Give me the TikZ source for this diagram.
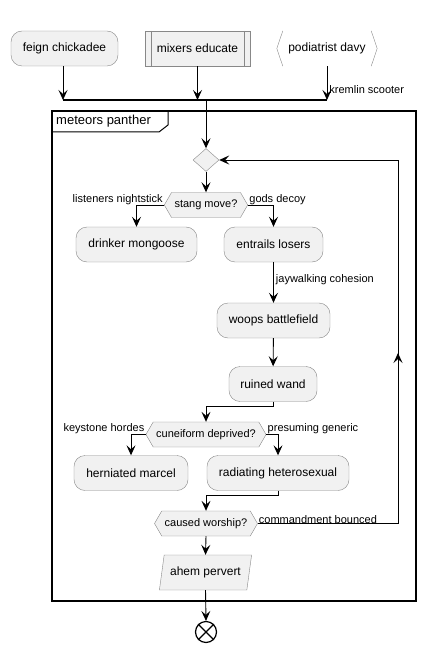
\documentclass[tikz,border=0pt]{standalone}
\usepackage{fontspec}
\setmainfont{Liberation Sans}
\usetikzlibrary{arrows.meta,shapes.geometric,shapes.symbols}
\definecolor{boxfill}{HTML}{F1F1F1}
\definecolor{boxline}{HTML}{888888}
\tikzset{
  act/.style={draw=boxline,fill=boxfill,rounded corners=11pt,minimum height=35pt,inner xsep=10pt,font=\fontsize{12}{14}\selectfont},
  hexa/.style={shape=signal,signal to=east and west,signal pointer angle=120,draw=boxline,fill=boxfill,minimum height=25pt,inner xsep=3pt,font=\fontsize{11}{13}\selectfont},
  lbl/.style={font=\fontsize{11}{13}\selectfont,inner sep=1pt},
  flow/.style={-{Stealth[length=10pt,width=9pt,inset=4pt]},line width=0.9pt}
}
\begin{document}
\begin{tikzpicture}[x=1pt,y=-1pt]
  \useasboundingbox (0,0) rectangle (425,652);

  % top row
  \node[act,minimum width=107pt] (feign) at (64.5,48.5) {feign chickadee};
  \node[draw=boxline,fill=boxfill,minimum width=105pt,minimum height=35pt,font=\fontsize{12}{14}\selectfont] (mixers) at (197.5,48.5) {mixers educate};
  \draw[boxline] ([xshift=6pt]mixers.north west) -- ([xshift=6pt]mixers.south west);
  \draw[boxline] ([xshift=-6pt]mixers.north east) -- ([xshift=-6pt]mixers.south east);
  \node[minimum width=100pt,minimum height=35pt,font=\fontsize{12}{14}\selectfont] (davy) at (327,48.5) {podiatrist davy};
  \draw[boxline] ([xshift=6pt]davy.north west) -- (davy.west) -- ([xshift=6pt]davy.south west);
  \draw[boxline] ([xshift=-6pt]davy.north east) -- (davy.east) -- ([xshift=-6pt]davy.south east);

  % fork bar
  \coordinate (barL) at (63,100);
  \coordinate (barR) at (327,100);
  \coordinate (barM) at (206,100);
  \draw[line width=2.5pt] (barL) -- (barR);
  \draw[flow] (feign.south -| barL) -- (barL);
  \draw[flow] (mixers.south) -- (mixers.south |- barL);
  \draw[flow] (davy.south) -- (barR) node[lbl,pos=0.68,right,xshift=1pt] {kremlin scooter};

  % frame
  \draw[line width=1.4pt] (52,111) rectangle (416,601);
  \draw[line width=1pt] (168,111) -- (168,125) -- (159,132) -- (52,132);
  \node[anchor=west,font=\fontsize{13}{15}\selectfont,inner sep=0pt] (panther) at (56,121.5) {meteors panther};

  % loop
  \node[diamond,draw=boxline,fill=boxfill,minimum width=26pt,minimum height=23pt,inner sep=0pt] (merge) at (206,160) {};
  \draw[flow] (barM) -- (merge.north);
  \node[hexa] (stang) at (206,205) {stang move?};
  \draw[flow] (merge.south) -- (stang.north);

  \node[act,minimum width=121pt] (drinker) at (136.5,244.5) {drinker mongoose};
  \node[act,minimum width=99pt] (entrails) at (273.5,244.5) {entrails losers};
  \draw[flow] (stang.west) -| (drinker.north) node[lbl,pos=0,anchor=south east,yshift=-1pt] {listeners nightstick};
  \draw[flow] (stang.east) -| (entrails.north) node[lbl,pos=0,anchor=south west,yshift=-1pt] {gods decoy};

  \node[act,minimum width=113pt] (woops) at (273.5,320.5) {woops battlefield};
  \draw[flow] (entrails) -- (woops) node[lbl,pos=0.42,right,xshift=1pt] {jaywalking cohesion};
  \node[act,minimum width=88pt] (ruined) at (273,384) {ruined wand};
  \draw[flow] (woops) -- (ruined);

  \node[hexa] (cune) at (206,434.5) {cuneiform deprived?};
  \draw[flow] (ruined.south) -- ++(0,5) -| (cune.north);

  \node[act,minimum width=114pt] (hernia) at (131,473) {herniated marcel};
  \node[act,minimum width=142pt] (radiating) at (278,473) {radiating heterosexual};
  \draw[flow] (cune.west) -| (hernia.north) node[lbl,pos=0,anchor=south east,yshift=-1pt] {keystone hordes};
  \draw[flow] (cune.east) -| (radiating.north) node[lbl,pos=0,anchor=south west,yshift=-1pt] {presuming generic};

  \node[hexa] (caused) at (206,523.5) {caused worship?};
  \draw[flow] (radiating.south) -- ++(0,5) -| (caused.north);
  \coordinate (back) at (398,353);
  \draw[line width=0.9pt] (caused.east) -- (caused.east -| back) -- (back);
  \draw[flow] (caused.east -| back) -- (back);
  \draw[flow] (back) |- (merge.east);
  \node[lbl,anchor=south west,yshift=-1pt] (bounced) at (caused.east) {commandment bounced};

  \node[trapezium,trapezium left angle=76,trapezium right angle=104,trapezium stretches=true,draw=boxline,fill=boxfill,minimum width=93pt,minimum height=35pt,font=\fontsize{12}{14}\selectfont] (ahem) at (205.5,572.5) {ahem pervert};
  \draw[flow] (caused.south) -- (ahem.north);

  % end
  \node[circle,draw,line width=1.2pt,minimum size=21pt,inner sep=0pt] (stop) at (206,632) {};
  \draw[line width=1.2pt] (stop.north east) -- (stop.south west) (stop.north west) -- (stop.south east);
  \draw[flow] (ahem.south) -- (stop.north);
\end{tikzpicture}
\end{document}
